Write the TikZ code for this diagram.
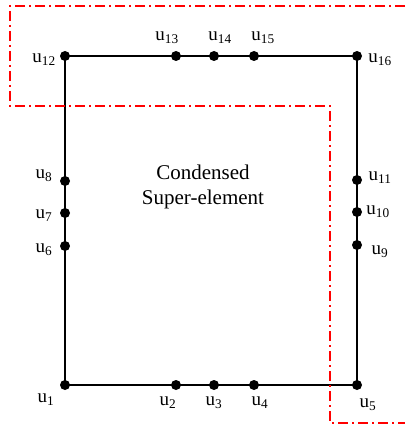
\documentclass[tikz,border=0pt]{standalone}
\usepackage{fontspec}
\setmainfont{Liberation Serif}
\usetikzlibrary{positioning,calc}

\begin{document}
\begin{tikzpicture}[x=1pt,y=-1pt]
        \tikzset{
            dot/.style={circle, fill=black, inner sep=0pt, minimum size=10pt},
            lbl/.style={inner sep=0pt, font=\fontsize{19}{22}\selectfont},
            edge/.style={black, line width=1.8pt},
            boundary/.style={red, line width=1.6pt, dash pattern=on 10pt off 4pt on 2pt off 4pt}
        }
        \useasboundingbox (0,0) rectangle (405,428);
        % nodes of the super-element
        \foreach \n/\x/\y/\dx/\dy in {1/65/385/-19/15, 2/176/385/-8/18, 3/214/385/0/18, 4/254/385/6/18,
            5/357/385/11/20, 6/65/246/-21/4, 7/65/213/-21/3, 8/65/181/-21/-5, 9/357/245/23/7,
            10/357/212/21/0, 11/357/180/23/-2, 12/65/56/-21/4, 13/176/56/-9/-18, 14/214/56/6/-18,
            15/254/56/9/-18, 16/357/56/23/4}
        {
            \node[dot] (u\n) at (\x,\y) {};
            \node[lbl] (l\n) at ($(u\n)+(\dx,\dy)$) {u\textsubscript{\n}};
        }
        \draw[edge] (u1.center) -- (u5.center) -- (u16.center) -- (u12.center) -- cycle;
        \node[align=center, font=\fontsize{21}{25}\selectfont] (title) at (203,187) {Condensed\\Super-element};
        % condensation boundary
        \coordinate (b1) at (405,6);
        \coordinate (b2) at (10,6);
        \coordinate (b3) at (10,106);
        \coordinate (b4) at (330,106);
        \coordinate (b5) at (330,423);
        \coordinate (b6) at (405,423);
        \draw[boundary] (b1) -- (b2) -- (b3) -- (b4) -- (b5) -- (b6);
\end{tikzpicture}
\end{document}
